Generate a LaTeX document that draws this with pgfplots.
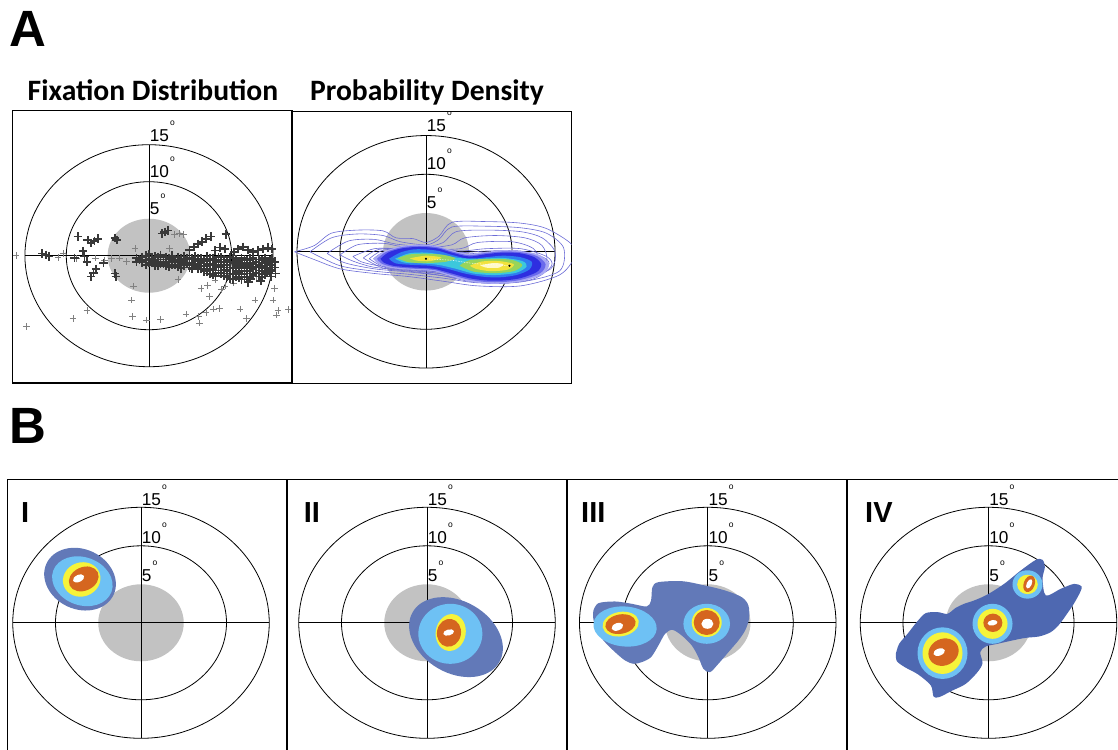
\documentclass[border=0pt]{standalone}
\usepackage{pgfplots}
\pgfplotsset{compat=1.18}
\usepackage{fontspec}
\setmainfont{Liberation Sans}
\newfontfamily\calibri{Carlito}
\definecolor{dgray}{HTML}{C2C2C2}
\definecolor{bdark}{HTML}{6279B8}
\definecolor{bdarkiv}{HTML}{4E68B1}
\definecolor{blight}{HTML}{6EC1F4}
\definecolor{byel}{HTML}{F6F33A}
\definecolor{bor}{HTML}{D5661F}
\definecolor{cont}{HTML}{6B6BD6}
\definecolor{hZ}{HTML}{A9A9F4}
\definecolor{hY}{HTML}{6B6BEC}
\definecolor{hA}{HTML}{2E2EE0}
\definecolor{hB}{HTML}{2F7CF0}
\definecolor{hC}{HTML}{3CC8DC}
\definecolor{hD}{HTML}{98D45A}
\definecolor{hE}{HTML}{F2E23C}
\definecolor{hF}{HTML}{FFF9C8}
\newcommand{\dg}[1]{{\fontsize{17.2}{20}\selectfont #1}\hspace{1.2pt}\raisebox{16pt}{\fontsize{8.5}{8.5}\selectfont o}}
\pgfplotsset{panel/.style={anchor=south west, scale only axis, ticks=none,
  axis line style={line width=1.3pt}}}
\tikzset{deglab/.style={anchor=base west, inner sep=0pt, xshift=0.6pt}}
\begin{document}
\begin{tikzpicture}
% ---------------- A1 ----------------
\begin{axis}[panel, at={(12.7pt,366pt)}, width=280pt, height=272.3pt,
  xmin=-16.48, xmax=17.38, ymin=-17.2, ymax=19.6]
\fill[dgray] (axis cs:0,0) ellipse [x radius=41.35pt, y radius=37pt];
\draw[line width=0.8pt] (axis cs:0,0) ellipse [x radius=82.7pt, y radius=74pt];
\draw[line width=0.8pt] (axis cs:0,0) ellipse [x radius=124.05pt, y radius=111pt];
\draw[line width=0.8pt] (axis cs:-15,0) -- (axis cs:15,0);
\draw[line width=0.8pt] (axis cs:0,-15) -- (axis cs:0,15);
\addplot[only marks, mark=+, mark size=3.3pt, color=black!50, mark options={line width=0.6pt}] coordinates {
(-14.8,-9.6) (-9.2,-8.5) (-7.5,-7.4) (-2.1,-6.0) (-2.0,-8.2) (-0.3,-8.7) (1.4,-8.6) (4.5,-7.9) (6.1,-9.1) (6.0,-8.2) (6.3,-4.4) (7.1,-4.0) (7.3,-5.5) (7.8,-7.2) (8.5,-7.1) (6.9,-7.7) (9.2,-4.1) (10.2,-3.7) (11.0,-7.2) (11.8,-8.5) (12.8,-6.0) (15.0,-6.0) (15.2,-4.4) (15.4,-8.0) (15.6,-7.4) (16.9,-7.3) (13.0,-2.8) (14.6,-1.9) (-1.9,-4.1) (3.7,3.0) (3.1,2.9) (4.2,2.9) (-1.7,1.0) (2.5,1.0) (-10.4,0.3) (-8.8,-0.4) (-5.4,-0.6) (-2.7,-0.8) (-11,-0.2) (-6.5,-0.3) (-4.5,-0.4) (-3.6,-0.3) (3.5,-3.2) (8.0,-3.3) (8.8,-4.6) (-16.1,0)
};
\addplot[only marks, mark=+, mark size=4.3pt, color=black!78, mark options={line width=1.8pt}] coordinates {
(-1.5,-0.3) (-1.5,-0.8) (-0.8,-0.2) (-0.8,-0.9) (0,0.2) (0,-0.4) (0,-1.0) (0.7,-0.1) (0.7,-0.7) (0.7,-1.3) (1.4,0.1) (1.4,-0.5) (1.4,-1.1) (2.1,-0.2) (2.1,-0.8) (2.1,-1.4) (2.8,0.0) (2.8,-0.6) (2.8,-1.2) (3.5,-0.2) (3.5,-0.9) (3.5,-1.5) (4.2,-0.1) (4.2,-0.7) (4.2,-1.3) (4.9,-0.3) (4.9,-1.0) (4.9,-1.6) (5.6,-0.1) (5.6,-0.7) (5.6,-1.4) (6.3,-0.4) (6.3,-1.0) (6.3,-1.8) (7.0,-0.1) (7.0,-0.7) (7.0,-1.4) (7.0,-2.1) (7.7,-0.4) (7.7,-1.1) (7.7,-1.8) (7.7,-2.5) (8.4,-0.2) (8.4,-0.8) (8.4,-1.5) (8.4,-2.3) (9.1,-0.5) (9.1,-1.2) (9.1,-1.9) (9.1,-2.7) (9.8,-0.2) (9.8,-0.9) (9.8,-1.6) (9.8,-2.4) (9.8,-3.1) (10.5,-0.5) (10.5,-1.3) (10.5,-2.0) (10.5,-2.8) (11.2,-0.3) (11.2,-1.0) (11.2,-1.7) (11.2,-2.5) (11.2,-3.2) (11.9,-0.6) (11.9,-1.4) (11.9,-2.1) (11.9,-2.9) (12.6,-0.3) (12.6,-1.1) (12.6,-1.8) (12.6,-2.6) (13.3,-0.5) (13.3,-1.2) (13.3,-2.0) (13.3,-2.8) (14.0,-0.3) (14.0,-1.0) (14.0,-1.7) (14.0,-2.5) (14.6,-0.6) (14.6,-1.3) (14.6,-2.1) (15.2,-0.8) (15.2,-1.6)
(-1.15,-0.55) (-0.4,0.0) (-0.4,-0.6) (-0.4,-1.2) (0.35,-0.4) (0.35,-1.0) (1.05,-0.2) (1.05,-0.8) (1.05,-1.4) (1.75,-0.5) (1.75,-1.1) (2.45,-0.3) (2.45,-0.9) (2.45,-1.5) (3.15,-0.6) (3.15,-1.2) (3.85,-0.4) (3.85,-1.1) (3.85,-1.7) (4.55,-0.4) (4.55,-1.0) (5.25,-0.4) (5.25,-1.2) (5.25,-1.8) (5.95,-0.4) (5.95,-1.1) (5.95,-1.7) (6.65,-0.7) (6.65,-1.4) (6.65,-2.1) (7.35,-0.4) (7.35,-1.1) (7.35,-1.8) (7.35,-2.4) (8.05,-0.6) (8.05,-1.3) (8.05,-2.0) (8.05,-2.7) (8.75,-0.2) (8.75,-0.9) (8.75,-1.6) (8.75,-2.4) (9.45,-0.6) (9.45,-1.3) (9.45,-2.1) (9.45,-2.9) (10.15,-0.3) (10.15,-1.0) (10.15,-1.7) (10.15,-2.5) (10.15,-3.2) (10.85,-0.7) (10.85,-1.4) (10.85,-2.2) (10.85,-3.0) (11.55,-0.5) (11.55,-1.2) (11.55,-2.0) (11.55,-2.8) (12.25,-0.4) (12.25,-1.0) (12.25,-1.7) (12.25,-2.4) (12.25,-3.1) (12.95,-0.8) (12.95,-1.5) (12.95,-2.3) (13.65,-0.6) (13.65,-1.4) (13.65,-2.1) (13.65,-2.9) (14.3,-0.9) (14.3,-1.6) (14.3,-2.3) (14.9,-0.4) (14.9,-1.2) (14.9,-1.9)
(1.6,3.0) (1.9,3.2) (2.3,3.4) (4.9,0.8) (5.4,1.2) (5.9,1.6) (6.4,1.9) (6.9,2.3) (7.5,2.6) (9.3,2.9) (8.0,0.7) (8.6,1.1) (9.2,0.9) (10.3,0.5) (10.8,0.9) (11.4,1.2) (12.0,0.8) (12.6,0.5) (13.2,0.7) (13.8,0.9) (14.4,1.1) (14.9,0.9) (13.5,-3.4) (14.8,-2.8) (12.0,-3.6) (15.3,-2.4)
(-12.9,0.3) (-12.5,0.1) (-12.1,-0.1) (-8.6,2.6) (-7.4,2.1) (-7.0,1.7) (-6.6,2.0) (-6.2,2.3) (-4.1,2.4) (-3.9,2.1) (-8.0,0.6) (-7.8,-0.1) (-7.5,-0.8) (-9.0,-0.3) (-6.4,-1.8) (-6.7,-2.3) (-7.0,-2.8) (-4.1,-2.4) (-4.0,-2.8) (-5.5,-1.0)
};
\node[deglab] at (axis cs:0,15.5) {\dg{15}};
\node[deglab] at (axis cs:0,10.6) {\dg{10}};
\node[deglab] at (axis cs:0,5.6) {\dg{5}};
\end{axis}
% ---------------- A2 ----------------
\begin{axis}[panel, at={(291.7pt,365.7pt)}, width=280pt, height=271.6pt,
  xmin=-15.62, xmax=16.94, ymin=-16.97, ymax=18.08]
\fill[dgray] (axis cs:0,0) ellipse [x radius=43pt, y radius=38.75pt];
\draw[line width=0.8pt] (axis cs:0,0) ellipse [x radius=86pt, y radius=77.5pt];
\draw[line width=0.8pt] (axis cs:0,0) ellipse [x radius=129pt, y radius=116.25pt];
\draw[line width=0.8pt] (axis cs:-15,0) -- (axis cs:15,0);
\draw[line width=0.8pt] (axis cs:0,-15) -- (axis cs:0,15);
\addplot[draw=cont, line width=0.6pt, smooth] coordinates {(-15.3,0) (-13,0.8) (-11,2.4) (-8,2.8) (-5,2.7) (-3.5,1.8) (-1.5,1.7) (0,1.2) (1.5,2.0) (3,3.8) (7,3.9) (11,3.7) (14,3.0) (16.9,1.0) (17.2,-0.8) (15.5,-3) (11,-4.4) (6,-4.4) (2,-3.8) (-2,-3.2) (-6,-2.8) (-10,-2.2) (-13,-1.0) (-15.3,0)};
\addplot[draw=cont, line width=0.6pt, smooth] coordinates {(-13.5,0) (-11,1.8) (-8,2.3) (-5,2.1) (-3,1.3) (0,0.9) (1.5,1.6) (3,3.2) (7,3.3) (11,3.1) (14,2.4) (16,0.5) (15.5,-2.5) (11,-3.9) (6,-4.0) (2,-3.4) (-2,-2.9) (-6,-2.5) (-10,-1.8) (-13.5,0)};
\addplot[draw=cont, line width=0.6pt, smooth] coordinates {(-11.5,-0.2) (-9,1.4) (-6,1.6) (-3.5,1.0) (0,0.7) (2,1.2) (3.5,2.6) (7,2.8) (11,2.6) (13.5,1.8) (15,0) (14.5,-2.2) (11,-3.5) (6,-3.7) (2,-3.1) (-2,-2.6) (-6,-2.2) (-9.5,-1.4) (-11.5,-0.2)};
\addplot[draw=cont, line width=0.6pt, smooth] coordinates {(-10,-0.4) (-8,0.9) (-5,1.1) (-3,0.7) (0,0.5) (3,0.9) (4.5,1.8) (8,2.1) (11.5,1.8) (13.5,0.8) (14,-1.2) (12,-3.0) (7,-3.4) (2.5,-2.9) (-2,-2.4) (-6,-2.0) (-8.5,-1.2) (-10,-0.4)};
\addplot[draw=cont, line width=0.6pt, smooth] coordinates {(-8.5,-0.6) (-6,0.4) (-3,0.4) (0,0.3) (4,0.4) (6,1.2) (10,1.3) (12.5,0.4) (13,-1.3) (11,-2.8) (7,-3.2) (3,-2.8) (-2,-2.2) (-5.5,-1.8) (-7.5,-1.3) (-8.5,-0.6)};
\addplot[draw=cont, line width=0.6pt, smooth] coordinates {(-7.3,-0.8) (-5.5,0.3) (-2,0.5) (1,0.5) (4,0.1) (7,0.4) (11,0.4) (14,-0.6) (14.6,-1.8) (12.5,-3.5) (8.5,-4.1) (5,-3.8) (1.5,-3.0) (-2,-2.5) (-5,-2.1) (-7.3,-0.8)};
\addplot[draw=cont, line width=0.6pt, smooth] coordinates {(-6.6,-0.9) (-5,0.2) (-2,0.4) (1,0.3) (4,-0.1) (7,0.1) (11,0.1) (13.8,-0.8) (14.2,-1.8) (12,-3.3) (8.5,-3.9) (5,-3.6) (1.5,-2.8) (-2,-2.3) (-4.8,-2.0) (-6.6,-0.9)};
\addplot[draw=cont, line width=0.6pt, smooth] coordinates {(-6.1,-0.9) (-4.8,0.0) (-2,0.3) (1,0.2) (4,-0.3) (7,-0.1) (11,-0.1) (13.5,-0.9) (13.8,-1.8) (12,-3.1) (8.5,-3.8) (5,-3.5) (1.5,-2.6) (-2,-2.2) (-4.6,-1.9) (-6.1,-0.9)};
\addplot[draw=none, fill=hZ, smooth] coordinates {(-6.1,-0.9) (-5,0.0) (-3,0.7) (-1.5,0.9) (0,0.9) (1.5,0.7) (3,0.2) (5,-0.3) (7,0.0) (9,0.2) (11,0.1) (13.2,-0.4) (14.3,-1.6) (13.6,-2.9) (11.2,-3.8) (9,-4.1) (7,-4.1) (5,-3.8) (3,-3.2) (1,-2.5) (0,-2.4) (-2,-2.3) (-4,-2.1) (-5.5,-1.6) (-6.1,-0.9)} -- cycle;
\addplot[draw=none, fill=hY, smooth] coordinates {(-5.7,-0.9) (-4.7,-0.05) (-3,0.55) (-1.5,0.75) (0,0.75) (1.5,0.55) (3,0.05) (5,-0.45) (7,-0.15) (9,0.05) (11,-0.05) (12.9,-0.55) (13.9,-1.6) (13.3,-2.75) (11.1,-3.6) (9,-3.9) (7,-3.9) (5,-3.6) (3,-3.0) (1,-2.35) (0,-2.25) (-2,-2.15) (-3.9,-1.95) (-5.2,-1.5) (-5.7,-0.9)} -- cycle;
\addplot[draw=none, fill=hA, smooth] coordinates {(-5.3,-0.9) (-4.4,-0.1) (-3,0.4) (-1.5,0.6) (0,0.6) (1.5,0.4) (3,-0.1) (5,-0.6) (7,-0.3) (9,-0.1) (11,-0.2) (12.6,-0.7) (13.4,-1.6) (12.9,-2.6) (11,-3.4) (9,-3.7) (7,-3.7) (5,-3.4) (3,-2.8) (1,-2.2) (0,-2.1) (-2,-2.0) (-3.8,-1.8) (-4.9,-1.4) (-5.3,-0.9)} -- cycle;
\addplot[draw=none, fill=hB, smooth] coordinates {(-4.3,-0.9) (-3,-0.1) (-1.5,0.3) (0,0.3) (1.5,0.1) (3,-0.4) (5,-0.9) (7,-0.7) (9,-0.5) (11,-0.7) (12.3,-1.3) (12,-2.3) (10.5,-3.0) (8.5,-3.3) (6.5,-3.2) (4.5,-2.8) (2.5,-2.2) (0.5,-1.8) (-1.5,-1.7) (-3.5,-1.5) (-4.3,-0.9)} -- cycle;
\addplot[draw=none, fill=hC, smooth] coordinates {(-3.6,-0.9) (-2,-0.2) (0,-0.1) (2,-0.4) (3.8,-0.8) (6,-0.9) (9,-0.8) (11.2,-1.2) (11.7,-1.9) (10.5,-2.7) (8,-3.0) (5.5,-2.8) (3.5,-2.2) (1.5,-1.7) (-0.5,-1.5) (-2.5,-1.4) (-3.6,-0.9)} -- cycle;
\addplot[draw=none, fill=hD, smooth] coordinates {(-3.3,-0.85) (-2,-0.35) (0,-0.25) (2,-0.4) (3.4,-0.85) (2.2,-1.3) (0,-1.45) (-2,-1.35) (-3.3,-0.85)} -- cycle;
\addplot[draw=none, fill=hD, smooth] coordinates {(3.9,-1.8) (5,-1.1) (7.5,-0.9) (10,-1.05) (11.2,-1.7) (10.2,-2.5) (8,-2.75) (5.5,-2.55) (3.9,-1.8)} -- cycle;
\addplot[draw=none, fill=hE, smooth] coordinates {(-1.9,-0.85) (0,-0.5) (1.8,-0.75) (0.5,-1.2) (-1,-1.15) (-1.9,-0.85)} -- cycle;
\addplot[draw=none, fill=hE, smooth] coordinates {(5.1,-1.8) (6.5,-1.25) (8.5,-1.2) (10.2,-1.6) (9.5,-2.3) (7.5,-2.5) (5.8,-2.2) (5.1,-1.8)} -- cycle;
\addplot[draw=none, fill=hF, smooth] coordinates {(6.3,-1.75) (7.8,-1.45) (9,-1.6) (8.5,-2.05) (7,-2.05) (6.3,-1.75)} -- cycle;
\addplot[draw=white, densely dotted, line width=0.6pt, smooth] coordinates {(0,-0.9) (3,-1.1) (5.5,-1.5) (9.7,-1.8)};
\addplot[only marks, mark=*, mark size=0.8pt, black] coordinates {(0,-0.9) (9.7,-1.8)};
\node[deglab] at (axis cs:0,15.5) {\dg{15}};
\node[deglab] at (axis cs:0,10.6) {\dg{10}};
\node[deglab] at (axis cs:0,5.6) {\dg{5}};
\end{axis}
% ---------------- B1 ----------------
\begin{axis}[panel, at={(7.3pt,-11pt)}, width=279.7pt, height=280.7pt,
  xmin=-15.64, xmax=17.08, ymin=-17.82, ymax=18.64]
\fill[dgray] (axis cs:0,0) ellipse [x radius=42.75pt, y radius=38.5pt];
\draw[line width=0.8pt] (axis cs:0,0) ellipse [x radius=85.5pt, y radius=77pt];
\draw[line width=0.8pt] (axis cs:0,0) ellipse [x radius=128.25pt, y radius=115.5pt];
\draw[line width=0.8pt] (axis cs:-15,0) -- (axis cs:15,0);
\draw[line width=0.8pt] (axis cs:0,-15) -- (axis cs:0,15);
\fill[bdark] (axis cs:-7.13,5.67) ellipse [x radius=37pt, y radius=30pt, rotate=-25];
\fill[blight] (axis cs:-6.86,5.4) ellipse [x radius=31pt, y radius=24pt, rotate=-20];
\fill[byel] (axis cs:-6.94,5.63) ellipse [x radius=19pt, y radius=17pt, rotate=20];
\fill[bor] (axis cs:-6.7,5.7) ellipse [x radius=15.5pt, y radius=11.7pt, rotate=25];
\fill[white] (axis cs:-7.3,5.76) ellipse [x radius=6pt, y radius=3.5pt, rotate=25];
\node[deglab] at (axis cs:0,15.3) {\dg{15}};
\node[deglab] at (axis cs:0,10.3) {\dg{10}};
\node[deglab] at (axis cs:0,5.35) {\dg{5}};
\end{axis}
% ---------------- B2 ----------------
\begin{axis}[panel, at={(287pt,-11pt)}, width=280pt, height=280.7pt,
  xmin=-16.37, xmax=16.37, ymin=-17.82, ymax=18.64]
\fill[dgray] (axis cs:0,0) ellipse [x radius=42.75pt, y radius=38.5pt];
\draw[line width=0.8pt] (axis cs:0,0) ellipse [x radius=85.5pt, y radius=77pt];
\draw[line width=0.8pt] (axis cs:0,0) ellipse [x radius=128.25pt, y radius=115.5pt];
\draw[line width=0.8pt] (axis cs:-15,0) -- (axis cs:15,0);
\draw[line width=0.8pt] (axis cs:0,-15) -- (axis cs:0,15);
\fill[bdark] (axis cs:3.39,-1.86) ellipse [x radius=50pt, y radius=36pt, rotate=-30];
\fill[blight] (axis cs:2.73,-1.43) ellipse [x radius=32pt, y radius=30pt];
\fill[byel] (axis cs:2.77,-1.26) ellipse [x radius=15pt, y radius=18.5pt, rotate=-10];
\fill[bor] (axis cs:2.57,-1.30) ellipse [x radius=12pt, y radius=14pt, rotate=-10];
\fill[white] (axis cs:2.53,-1.26) ellipse [x radius=5.5pt, y radius=3pt, rotate=15];
\node[deglab] at (axis cs:0,15.3) {\dg{15}};
\node[deglab] at (axis cs:0,10.3) {\dg{10}};
\node[deglab] at (axis cs:0,5.35) {\dg{5}};
\end{axis}
% ---------------- B3 ----------------
\begin{axis}[panel, at={(567pt,-11pt)}, width=280pt, height=280.7pt,
  xmin=-16.46, xmax=16.29, ymin=-17.82, ymax=18.64]
\fill[dgray] (axis cs:0,0) ellipse [x radius=42.75pt, y radius=38.5pt];
\draw[line width=0.8pt] (axis cs:0,0) ellipse [x radius=85.5pt, y radius=77pt];
\draw[line width=0.8pt] (axis cs:0,0) ellipse [x radius=128.25pt, y radius=115.5pt];
\draw[line width=0.8pt] (axis cs:-15,0) -- (axis cs:15,0);
\draw[line width=0.8pt] (axis cs:0,-15) -- (axis cs:0,15);
\addplot[draw=none, fill=bdark, smooth] coordinates {(-13.37,1.60) (-12.79,2.55) (-10.84,2.77) (-8.89,2.47) (-7.13,2.12) (-6.63,2.90) (-6.47,4.63) (-5.77,5.28) (-3.04,5.41) (-0.70,4.94) (2.03,4.20) (3.98,3.33) (4.76,2.25) (4.83,0.52) (4.37,-1.0) (3.59,-2.29) (2.42,-3.81) (1.25,-5.32) (0.27,-6.41) (-0.51,-5.97) (-1.09,-4.46) (-1.87,-2.94) (-3.04,-1.65) (-4.13,-0.91) (-4.99,-1.43) (-5.77,-2.94) (-6.63,-4.46) (-7.72,-5.11) (-8.69,-5.32) (-9.67,-4.89) (-10.84,-3.81) (-12.20,-2.29) (-13.10,-0.65) (-13.41,0.74) (-13.37,1.60)} -- cycle;
\fill[blight] (axis cs:-9.67,-0.48) ellipse [x radius=31.7pt, y radius=20pt, rotate=-5];
\fill[byel] (axis cs:-10.18,-0.17) ellipse [x radius=18.3pt, y radius=12.2pt, rotate=10];
\fill[bor] (axis cs:-10.2,-0.17) ellipse [x radius=15.3pt, y radius=9.7pt, rotate=10];
\fill[white] (axis cs:-10.57,-0.52) ellipse [x radius=6pt, y radius=3.7pt, rotate=20];
\fill[blight] (axis cs:-0.12,-0.13) ellipse [x radius=23.3pt, y radius=20pt];
\fill[byel] (axis cs:-0.12,0.04) ellipse [x radius=15pt, y radius=14.5pt];
\fill[bor] (axis cs:-0.12,0.04) ellipse [x radius=13pt, y radius=12.5pt];
\fill[white] (axis cs:-0.04,-0.13) ellipse [x radius=6pt, y radius=5pt];
\node[deglab] at (axis cs:0,15.3) {\dg{15}};
\node[deglab] at (axis cs:0,10.3) {\dg{10}};
\node[deglab] at (axis cs:0,5.35) {\dg{5}};
\end{axis}
% ---------------- B4 ----------------
\begin{axis}[panel, at={(847pt,-11pt)}, width=280pt, height=280.7pt,
  xmin=-16.55, xmax=16.2, ymin=-17.82, ymax=18.64]
\fill[dgray] (axis cs:0,0) ellipse [x radius=42.75pt, y radius=38.5pt];
\draw[line width=0.8pt] (axis cs:0,0) ellipse [x radius=85.5pt, y radius=77pt];
\draw[line width=0.8pt] (axis cs:0,0) ellipse [x radius=128.25pt, y radius=115.5pt];
\draw[line width=0.8pt] (axis cs:-15,0) -- (axis cs:15,0);
\draw[line width=0.8pt] (axis cs:0,-15) -- (axis cs:0,15);
\addplot[draw=none, fill=bdarkiv, smooth] coordinates {(-10.84,-4.03) (-10.45,-2.73) (-9.47,-1.43) (-8.30,0.22) (-7.33,1.26) (-5.96,1.39) (-4.80,1.17) (-3.82,1.95) (-2.85,2.47) (-1.68,2.90) (-0.12,3.68) (1.83,5.06) (3.78,6.80) (5.54,8.18) (6.32,8.18) (6.59,7.23) (6.32,5.71) (6.71,3.55) (8.46,4.42) (10.02,5.06) (10.88,4.72) (10.72,3.98) (10.02,2.55) (9.24,1.26) (8.27,-0.22) (7.29,-1.21) (5.93,-1.77) (4.37,-1.95) (2.81,-2.29) (1.05,-2.73) (-0.31,-3.07) (-0.97,-3.81) (-0.70,-5.24) (-1.29,-6.41) (-2.65,-7.92) (-4.21,-8.79) (-5.77,-9.65) (-6.43,-9.57) (-6.74,-8.14) (-8.23,-6.71) (-9.79,-5.76) (-10.72,-4.98) (-10.84,-4.03)} -- cycle;
\fill[blight] (axis cs:-5.38,-3.94) ellipse [x radius=25pt, y radius=25.8pt];
\fill[byel] (axis cs:-5.38,-3.94) ellipse [x radius=20pt, y radius=20.8pt];
\fill[bor] (axis cs:-5.26,-3.81) ellipse [x radius=15.5pt, y radius=13.3pt, rotate=25];
\fill[white] (axis cs:-5.77,-3.81) ellipse [x radius=6pt, y radius=3.5pt, rotate=20];
\fill[blight] (axis cs:0.47,-0.13) ellipse [x radius=20pt, y radius=20pt];
\fill[byel] (axis cs:0.47,-0.13) ellipse [x radius=15pt, y radius=15pt];
\fill[bor] (axis cs:0.51,0) ellipse [x radius=9.5pt, y radius=9.2pt];
\fill[white] (axis cs:0.47,0) ellipse [x radius=5pt, y radius=2.7pt, rotate=10];
\fill[blight] (axis cs:4.56,4.98) ellipse [x radius=15pt, y radius=14.2pt];
\fill[byel] (axis cs:4.56,4.98) ellipse [x radius=10.3pt, y radius=9.7pt];
\fill[bor] (axis cs:4.76,5.06) ellipse [x radius=5.5pt, y radius=8.5pt, rotate=-20];
\fill[white] (axis cs:4.76,5.06) ellipse [x radius=2.5pt, y radius=5pt, rotate=-25];
\node[deglab] at (axis cs:0,15.3) {\dg{15}};
\node[deglab] at (axis cs:0,10.3) {\dg{10}};
\node[deglab] at (axis cs:0,5.35) {\dg{5}};
\end{axis}
% ---------------- labels ----------------
\node[anchor=base west, inner sep=0pt, font=\fontsize{51}{51}\selectfont\bfseries] at (9pt,702.3pt) {A};
\node[anchor=base west, inner sep=0pt, font=\fontsize{51}{51}\selectfont\bfseries] at (9pt,305pt) {B};
\node[anchor=base, inner sep=0pt, font=\calibri\fontsize{29.6}{34}\selectfont\bfseries] at (153pt,648.3pt) {Fixation Distribution};
\node[anchor=base, inner sep=0pt, font=\calibri\fontsize{29.6}{34}\selectfont\bfseries] at (427pt,648.3pt) {Probability Density};
\node[anchor=base west, inner sep=0pt, font=\fontsize{29}{29}\selectfont\bfseries] at (21pt,226.3pt) {I};
\node[anchor=base west, inner sep=0pt, font=\fontsize{29}{29}\selectfont\bfseries] at (303.7pt,226.3pt) {II};
\node[anchor=base west, inner sep=0pt, font=\fontsize{29}{29}\selectfont\bfseries] at (581pt,226.3pt) {III};
\node[anchor=base west, inner sep=0pt, font=\fontsize{29}{29}\selectfont\bfseries] at (865pt,226.3pt) {IV};
\pgfresetboundingbox
\path[use as bounding box] (0,0) rectangle (1118pt,749pt);
\end{tikzpicture}
\end{document}
